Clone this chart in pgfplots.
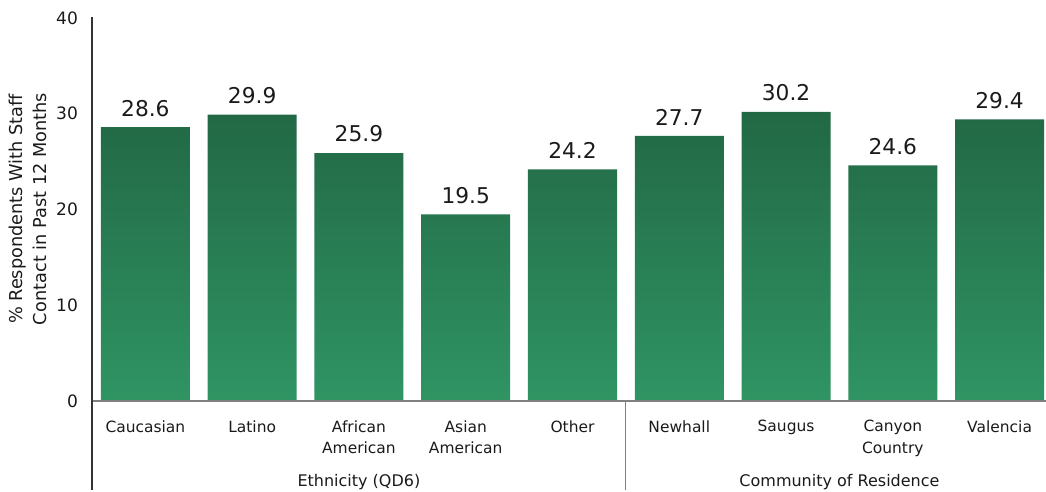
\documentclass[border=0pt]{standalone}
\usepackage{pgfplots}
\pgfplotsset{compat=1.18}
\usepackage{fontspec}
\setmainfont{DejaVu Sans}
\definecolor{bartop}{HTML}{226845}
\definecolor{barbot}{HTML}{2F9463}
\definecolor{axgray}{HTML}{808080}
\definecolor{txt}{HTML}{1A1A1A}
\begin{document}
\begin{tikzpicture}
\useasboundingbox (-69pt,-68.25pt) rectangle (715.5pt,300.75pt);
\begin{axis}[
  at={(0,0)}, anchor=south west,
  scale only axis,
  width=720.75pt, height=287.25pt,
  xmin=-0.5, xmax=8.5,
  ymin=0, ymax=40,
  axis x line*=bottom, axis y line*=left,
  axis line style={draw=none},
  clip=false,
  ytick={0,10,20,30,40},
  xtick={0,...,8},
  xticklabels={Caucasian,Latino,African\\American,Asian\\American,Other,Newhall,Saugus,Canyon\\Country,Valencia},
  major tick length=0pt,
  ticklabel style={text=txt},
  yticklabel style={font=\fontsize{12.8}{14}\selectfont, xshift=-7pt},
  xticklabel style={font=\fontsize{11.6}{16}\selectfont, align=center, anchor=north, yshift=-11pt},
  /pgf/number format/assume math mode=true,
  ybar, bar width=0.834,
  nodes near coords,
  nodes near coords style={font=\fontsize{16.3}{19}\selectfont, text=txt, yshift=4.5pt},
  point meta=explicit symbolic,
]
\addplot[draw=none, top color=bartop, bottom color=barbot] table[meta=lab] {
x y lab
0 28.6 28.6
1 29.9 29.9
2 25.9 25.9
3 19.5 19.5
4 24.2 24.2
5 27.7 27.7
6 30.2 30.2
7 24.6 24.6
8 29.4 29.4
};
\end{axis}
\draw[axgray, line width=0.8pt] (0,0) -- (720.75pt,0);
\draw[black!80, line width=0.8pt] (0,288pt) -- (0,-66.75pt);
\draw[axgray, line width=0.8pt] (400.4pt,0) -- (400.4pt,-66.75pt);
\node[font=\fontsize{12}{14}\selectfont, text=txt] at (200.2pt,-60.5pt) {Ethnicity (QD6)};
\node[font=\fontsize{12}{14}\selectfont, text=txt] at (560.6pt,-60.5pt) {Community of Residence};
\node[rotate=90, align=center, font=\fontsize{13.3}{18.5}\selectfont, text=txt] at (-48pt,144pt) {\% Respondents With Staff\\Contact in Past 12 Months};
\end{tikzpicture}
\end{document}
